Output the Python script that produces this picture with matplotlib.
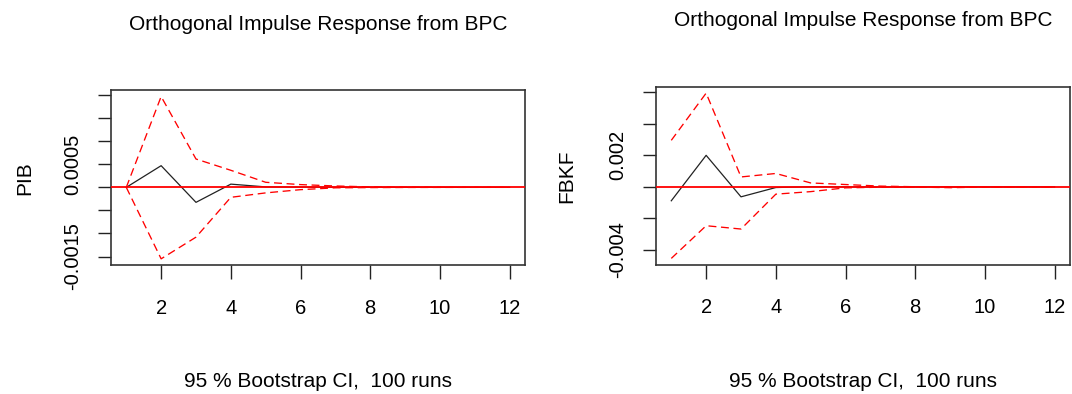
import matplotlib
matplotlib.use('Agg')
import matplotlib.pyplot as plt

plt.rcParams['font.family'] = ['Liberation Sans', 'DejaVu Sans']

# horizonte 1..12
steps = [1, 2, 3, 4, 5, 6, 7, 8, 9, 10, 11, 12]

# respuesta de PIB a un choque en BPC
pib_irf = [0.0, 0.00047, -0.000325, 0.00007, 0.00001, 0.000005, 0.000002, 0.000001, 0.0, 0.0, 0.0, 0.0]
pib_upper = [0.0, 0.00197, 0.000615, 0.00037, 0.00011, 0.00006, 0.00003, 0.00001, 0.000005, 0.000002, 0.000001, 0.0]
pib_lower = [0.0, -0.00155, -0.00108, -0.000216, -0.00012, -0.00005, -0.00001, -0.000005, -0.000002, -0.000001, 0.0, 0.0]

# respuesta de FBKF a un choque en BPC
fbkf_irf = [-0.00088, 0.002, -0.00063, -0.00004, 0.00001, 0.0, 0.0, 0.0, 0.0, 0.0, 0.0, 0.0]
fbkf_upper = [0.00295, 0.00594, 0.00063, 0.00085, 0.00025, 0.00015, 0.00005, 0.00001, 0.00001, 0.000005, 0.0, 0.0]
fbkf_lower = [-0.00453, -0.00246, -0.00267, -0.00046, -0.0003, -0.00006, -0.00002, -0.00001, -0.00005, -0.00001, 0.0, 0.0]

pib_ticks = [-0.0015, -0.001, -0.0005, 0.0, 0.0005, 0.001, 0.0015, 0.002]
pib_labels = ['-0.0015', '', '', '', '0.0005', '', '', '']
fbkf_ticks = [-0.004, -0.002, 0.0, 0.002, 0.004, 0.006]
fbkf_labels = ['-0.004', '', '', '0.002', '', '']
x_ticks = [2, 4, 6, 8, 10, 12]

title = 'Orthogonal Impulse Response from BPC'
subtitle = '95 % Bootstrap CI,  100 runs'

fig = plt.figure(figsize=(10.72, 3.94), dpi=100)
ax1 = fig.add_axes([0.1035, 0.3266, 0.3862, 0.4449])
ax2 = fig.add_axes([0.6119, 0.3274, 0.3862, 0.4530])

panels = [
    (ax1, pib_irf, pib_upper, pib_lower, 'PIB', pib_ticks, pib_labels, -0.208),
    (ax2, fbkf_irf, fbkf_upper, fbkf_lower, 'FBKF', fbkf_ticks, fbkf_labels, -0.215),
]

for ax, irf, upper, lower, name, yt, yl, lab_x in panels:
    ax.plot(steps, irf, color='#222222', lw=0.9, zorder=2)
    ax.plot(steps, upper, color='red', lw=0.95, ls=(0, (6, 3.5)), zorder=2)
    ax.plot(steps, lower, color='red', lw=0.95, ls=(0, (6, 3.5)), zorder=2)
    # linea del cero encima de todo, como abline(h=0)
    ax.axhline(0, color='red', lw=1.3, zorder=3)
    ax.margins(x=0.04, y=0.04)

    ax.set_xticks(x_ticks)
    ax.set_yticks(yt, yl, rotation=90, va='center')
    ax.tick_params(axis='x', length=10, width=1.0, color='#222222', labelsize=14.5, pad=14)
    ax.tick_params(axis='y', length=9.5, width=1.0, color='#222222', labelsize=14.5, pad=11)
    for sp in ax.spines.values():
        sp.set_color('#333333')
        sp.set_linewidth(1.2)

    ax.set_ylabel(name, fontsize=15, va='center')
    ax.yaxis.set_label_coords(lab_x, 0.5)

    ax.annotate(title, xy=(0.5, 1), xycoords='axes fraction', xytext=(0, 47.5),
                textcoords='offset points', ha='center', va='center', fontsize=15)
    ax.annotate(subtitle, xy=(0.5, 0), xycoords='axes fraction', xytext=(0, -84),
                textcoords='offset points', ha='center', va='center', fontsize=15)

fig.savefig('out.png', dpi=100, facecolor='white')
